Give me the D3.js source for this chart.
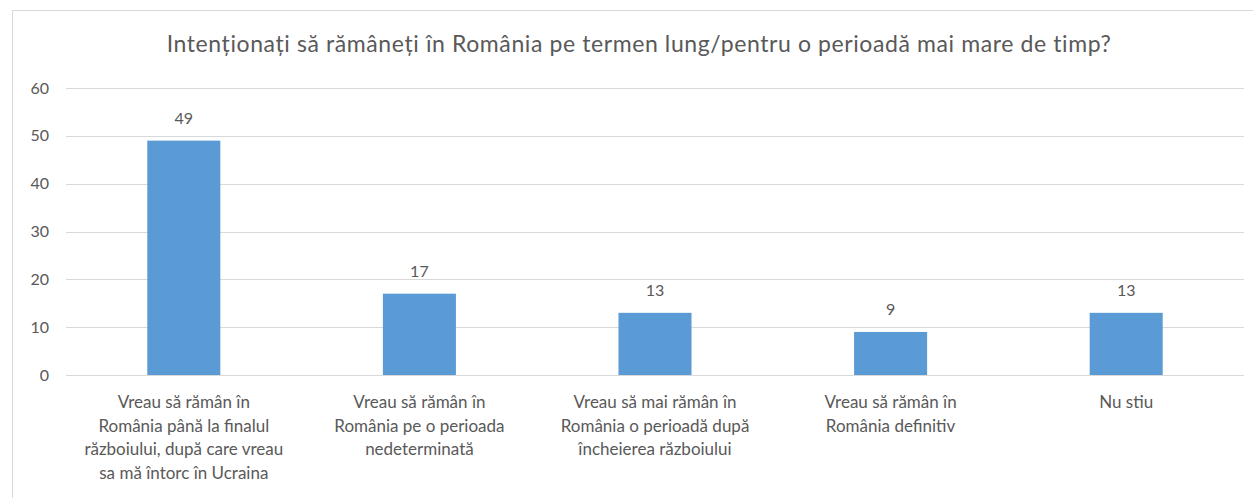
<!DOCTYPE html>
<meta charset="utf-8">
<style>
body { margin: 0; background: #fff; font-family: Lato, "Open Sans", sans-serif; }
text { fill: #595959; }
.grid line { stroke: #d9d9d9; }
</style>
<body>
<svg id="chart" width="1253" height="498"></svg>
<script src="https://d3js.org/d3.v7.min.js"></script>
<script>
var title = "Intenționați să rămâneți în România pe termen lung/pentru o perioadă mai mare de timp?";

// category labels, one entry per line as wrapped in the original
var categories = [
  ["Vreau să rămân în", "România până la finalul", "războiului, după care vreau", "sa mă întorc în Ucraina"],
  ["Vreau să rămân în", "România pe o perioada", "nedeterminată"],
  ["Vreau să mai rămân în", "România o perioadă după", "încheierea războiului"],
  ["Vreau să rămân în", "România definitiv"],
  ["Nu stiu"]
];
var values = [49, 17, 13, 9, 13];
var yTicks = [0, 10, 20, 30, 40, 50, 60];

var svg = d3.select("#chart"),
    margin = {top: 88, right: 9, bottom: 123, left: 66},
    width = +svg.attr("width"),
    height = +svg.attr("height"),
    w = width - margin.left - margin.right,
    h = height - margin.top - margin.bottom;

// chart border
svg.append("rect")
    .attr("x", 12.5).attr("y", 10.5)
    .attr("width", 1260).attr("height", 520)
    .attr("fill", "none")
    .attr("stroke", "#d9d9d9");

svg.append("text")
    .attr("x", 639).attr("y", 52)
    .attr("text-anchor", "middle")
    .style("font-size", "23px")
    .style("letter-spacing", "0.6px")
    .text(title);

var g = svg.append("g")
    .attr("transform", "translate(" + margin.left + "," + margin.top + ")");

var x = d3.scaleBand()
    .domain(d3.range(categories.length))
    .range([0, w])
    .paddingInner(0.69)
    .paddingOuter(0.345);

var y = d3.scaleLinear()
    .domain([0, 60])
    .range([h, 0]);

g.append("g")
    .attr("class", "grid")
    .selectAll("line")
    .data(yTicks)
    .enter().append("line")
    .attr("x1", 0).attr("x2", w)
    .attr("y1", function(d) { return Math.round(y(d)) + 0.5; })
    .attr("y2", function(d) { return Math.round(y(d)) + 0.5; });

g.selectAll(".ytick")
    .data(yTicks)
    .enter().append("text")
    .attr("class", "ytick")
    .attr("x", -17)
    .attr("y", function(d) { return y(d); })
    .attr("dy", "0.35em")
    .attr("text-anchor", "end")
    .style("font-size", "16px")
    .text(function(d) { return d; });

g.selectAll(".bar")
    .data(values)
    .enter().append("rect")
    .attr("class", "bar")
    .attr("x", function(d, i) { return x(i); })
    .attr("width", x.bandwidth())
    .attr("y", function(d) { return y(d); })
    .attr("height", function(d) { return h - y(d); })
    .attr("fill", "#5b9bd5");

g.selectAll(".val")
    .data(values)
    .enter().append("text")
    .attr("class", "val")
    .attr("x", function(d, i) { return x(i) + x.bandwidth() / 2; })
    .attr("y", function(d) { return y(d) - 17; })
    .attr("text-anchor", "middle")
    .style("font-size", "16px")
    .text(function(d) { return d; });

// category labels
var cat = g.selectAll(".cat")
    .data(categories)
    .enter().append("text")
    .attr("class", "cat")
    .attr("text-anchor", "middle")
    .style("font-size", "17px")
    .attr("transform", function(d, i) {
        return "translate(" + (x(i) + x.bandwidth() / 2) + "," + (h + 33) + ")";
    });

cat.selectAll("tspan")
    .data(function(d) { return d; })
    .enter().append("tspan")
    .attr("x", 0)
    .attr("y", function(d, i) { return i * 23.5; })
    .text(function(d) { return d; });
</script>
</body>
